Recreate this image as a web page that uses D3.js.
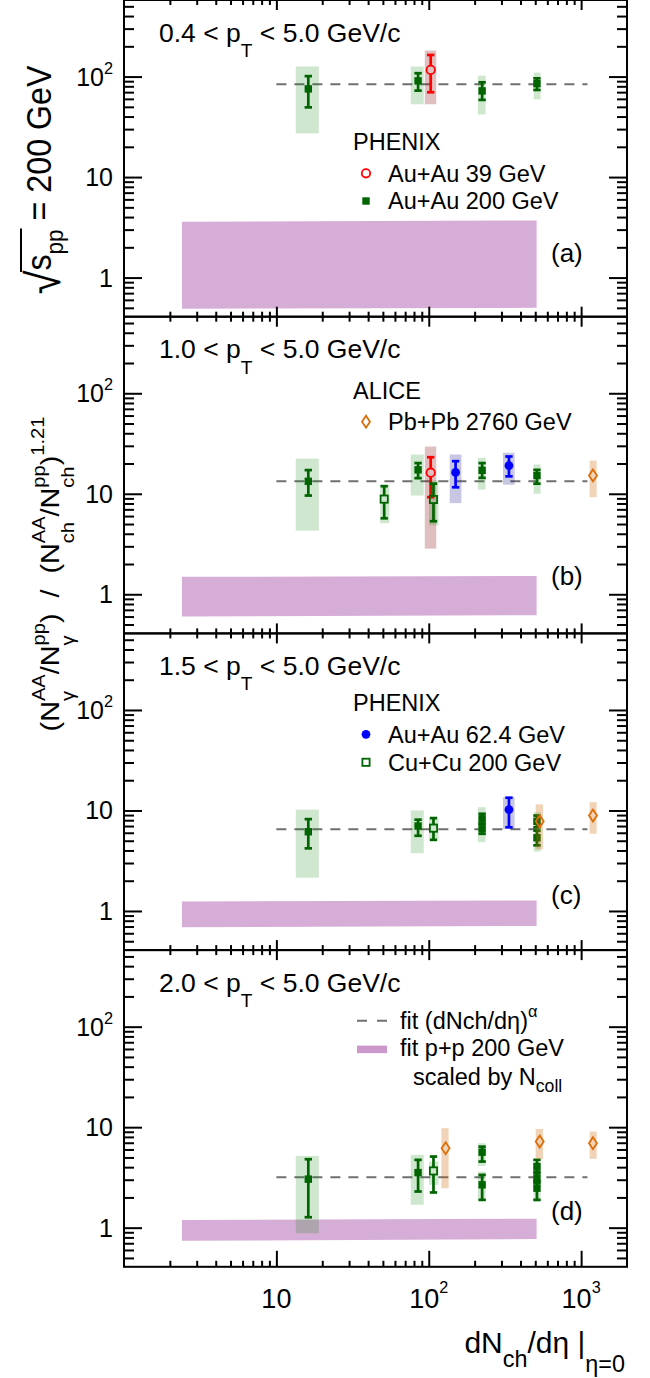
<!DOCTYPE html>
<html><head><meta charset="utf-8">
<script src="https://cdn.jsdelivr.net/npm/d3@7"></script>
<style>
body{margin:0;background:#fff}
svg{display:block}
text{font-family:"Liberation Sans",Arial,Helvetica,sans-serif;fill:#000}
</style>
</head><body>
<svg id="c" width="650" height="1378"></svg>
<script>
// ---------------- data ----------------
const panelLabels = ["(a)", "(b)", "(c)", "(d)"];
const ptLow = ["0.4", "1.0", "1.5", "2.0"];
const ptHigh = "5.0";
const yMajorTicks = [1, 10, 100];
const xMajorTicks = [10, 100, 1000];
const yTickLabels = [["1"], ["10"], ["10", "2"]];
const xTickLabels = [["10"], ["10", "2"], ["10", "3"]];
const fitLevel = [84, 13.3, 6.52, 3.18];
const fitRange = [10, 1100];
const ppBandX = [2.4, 510];
const ppBandLow = [[0.49, 0.50], [0.60, 0.62], [0.69, 0.71], [0.74, 0.77]];
const ppBandHigh = [[3.6, 3.7], [1.49, 1.52], [1.24, 1.27], [1.19, 1.23]];
// rows: panel, dNch/deta, value, statLo, statHi, sysLo, sysHi, sysXLo, sysXHi
const auAu200 = [
  [0, 16.2, 75.4, 49.4, 101, 27.2, 126, 13.4, 19.0],
  [0, 85.1, 90.6, 72.5, 108, 53, 126, 76.2, 92.7],
  [0, 224, 72, 58.6, 87.7, 42, 102, 210, 236],
  [0, 513, 85, 73.6, 96, 59.4, 109.6, 488, 542],
  [1, 16.2, 13.3, 9.6, 17.2, 4.3, 22.4, 13.4, 19.0],
  [1, 85.1, 17.3, 14.3, 20.2, 9.6, 24.6, 76.2, 92.7],
  [1, 224, 17.1, 14.4, 20.2, 11.0, 22.8, 210, 236],
  [1, 513, 15.2, 12.6, 17.3, 10, 19.6, 488, 542],
  [2, 16.2, 6.14, 4.2, 8.2, 2.14, 10.2, 13.4, 19.0],
  [2, 85.1, 7.0, 5.6, 8.1, 3.76, 10, 76.2, 92.7],
  [2, 224, 8.26, 7.37, 9.27, 7.4, 10.8, 210, 236],
  [2, 224, 6.57, 5.86, 7.37, 4.84, 7.4, 210, 236],
  [2, 513, 7.8, 6.8, 8.9, 6.4, 9.6, 488, 542],
  [2, 513, 5.35, 4.5, 6.3, 3.9, 6.4, 488, 542],
  [3, 16.2, 3.04, 1.27, 4.8, 0.88, 5.18, 13.4, 19.0],
  [3, 85.1, 3.53, 2.29, 4.73, 1.69, 5.3, 76.2, 92.7],
  [3, 224, 5.64, 4.55, 6.4, 4.12, 6.92, 210, 236],
  [3, 224, 2.67, 1.89, 3.35, 1.86, 3.61, 210, 236],
  [3, 513, 4.06, 3.61, 4.73, 3.6, 4.55, 488, 542],
  [3, 513, 3.11, 2.77, 3.48, 2.75, 3.6, 488, 542],
  [3, 513, 2.47, 1.89, 2.88, 1.82, 2.75, 488, 542]
];
const auAu39 = [
  [0, 103, 116.5, 69.8, 164, 53, 181.5, 94.2, 112],
  [1, 103, 16.2, 9.25, 23.1, 2.85, 29.5, 94.2, 112]
];
const auAu62 = [
  [1, 150, 16.3, 11.6, 21.1, 8.07, 24.6, 137.3, 163.8],
  [1, 336, 19.1, 14.9, 23.5, 12.3, 25.6, 307, 366],
  [2, 336, 10.2, 6.8, 13.4, 6.57, 13.6, 307, 366]
];
const cuCu200 = [
  [1, 51, 8.85, 5.7, 11.9, 5.1, 12.3, 48, 55.2],
  [1, 107.4, 8.77, 5.33, 12.6, 4.84, 13.6, 100.4, 115.8],
  [2, 107.4, 6.67, 5.1, 8.4, 5.22, 8.26, 100.4, 115.8],
  [3, 107.4, 3.67, 2.24, 5.1, 2.67, 4.55, 100.4, 115.8]
];
const pbPb2760 = [
  [1, 1196, 15.2, 15.2, 15.2, 9.25, 21.4, 1137, 1264],
  [2, 535, 7.8, 7.8, 7.8, 4.1, 11.5, 503, 562],
  [2, 1196, 8.9, 8.9, 8.9, 5.86, 12.1, 1137, 1264],
  [3, 129, 6.17, 6.17, 6.17, 2.47, 9.77, 121, 135],
  [3, 535, 7.2, 7.2, 7.2, 4.81, 9.6, 503, 562],
  [3, 1196, 6.92, 6.92, 6.92, 4.84, 9.05, 1137, 1264]
];

// ---------------- layout & styles ----------------
const X0 = 124, X1 = 627;
const panelTop = [0, 316.7, 633.4, 950.1], panelH = 316.7;
const x = d3.scaleLog().domain([1, 2000]).range([X0, X1]);
const ys = panelTop.map(t => d3.scaleLog().domain([0.408, 578]).range([t + panelH, t]));

const series = [
  {name: "Au+Au 200 GeV", data: auAu200, color: "#006400", box: "rgba(0,128,0,0.19)", marker: "fsquare"},
  {name: "Au+Au 39 GeV", data: auAu39, color: "#ff0000", box: "rgba(128,0,0,0.25)", marker: "ocircle"},
  {name: "Au+Au 62.4 GeV", data: auAu62, color: "#0000ff", box: "rgba(0,0,128,0.22)", marker: "fcircle"},
  {name: "Cu+Cu 200 GeV", data: cuCu200, color: "#006400", box: "rgba(0,128,0,0.19)", marker: "osquare"},
  {name: "Pb+Pb 2760 GeV", data: pbPb2760, color: "#dc6e0a", box: "rgba(204,102,0,0.28)", marker: "odiamond"}
];
const markerHalf = {fsquare: 3.7, osquare: 3.6, ocircle: 4.2, fcircle: 4.4, odiamond: 6};

const svg = d3.select("#c");

function rich(parent, pieces, o) {
  const g = parent.append("g").attr("transform", o.transform);
  const t = g.append("text").attr("font-size", o.size).attr("xml:space", "preserve").style("white-space", "pre");
  let cur = 0, lastStart = 0, lastEnd = 0;
  const ext = [];
  pieces.forEach(p => {
    const s = typeof p === "string" ? {t: p} : p;
    const fs = o.size * (s.scale ?? ((s.sup || s.sub) ? 0.7 : 1));
    const yy = s.sup ? -o.size * (s.rise ?? 0.45) : s.sub ? o.size * (s.drop ?? 0.3) : (s.dy || 0);
    const start = s.stack ? lastStart : cur + (s.dx || 0);
    const ts = t.append("tspan").attr("x", start).attr("y", yy).attr("font-size", fs).text(s.t);
    const w = ts.node().getComputedTextLength();
    const end = start + w;
    if (s.stack) cur = Math.max(lastEnd, end);
    else { lastStart = start; lastEnd = end; cur = end; }
    ext.push({start, end, ts});
  });
  const off = o.anchor === "middle" ? -cur / 2 : o.anchor === "end" ? -cur : 0;
  ext.forEach(e => { e.start += off; e.end += off; e.ts.attr("x", e.start); });
  return {g, ext, total: cur};
}

function drawMarker(g, type, cx, cy, color) {
  const h = markerHalf[type];
  if (type === "fsquare" || type === "osquare") {
    g.append("rect").attr("x", cx - h).attr("y", cy - h).attr("width", 2 * h).attr("height", 2 * h)
      .attr("fill", type === "fsquare" ? color : "none").attr("stroke", type === "osquare" ? color : "none").attr("stroke-width", 1.8);
  } else if (type === "ocircle" || type === "fcircle") {
    g.append("circle").attr("cx", cx).attr("cy", cy).attr("r", h)
      .attr("fill", type === "fcircle" ? color : "none").attr("stroke", type === "ocircle" ? color : "none").attr("stroke-width", 1.8);
  } else if (type === "odiamond") {
    g.append("path").attr("d", `M${cx},${cy - h}L${cx + 4},${cy}L${cx},${cy + h}L${cx - 4},${cy}Z`)
      .attr("fill", "none").attr("stroke", color).attr("stroke-width", 1.8);
  }
}

const yMinor = [], xMinor = [];
[-1, 0, 1, 2].forEach(k => d3.range(2, 10).forEach(m => { const v = m * Math.pow(10, k); if (v >= 0.408 && v <= 578) yMinor.push(v); }));
[0, 1, 2, 3].forEach(k => d3.range(2, 10).forEach(m => { const v = m * Math.pow(10, k); if (v < 2000) xMinor.push(v); }));

function axis(g, gen, vals, size, tr) {
  g.append("g").attr("transform", tr)
    .call(gen.tickValues(vals).tickSize(-size).tickFormat(""))
    .call(s => { s.select(".domain").remove(); s.selectAll("text").remove(); s.selectAll("line").attr("stroke", "#000").attr("stroke-width", 2); });
}

panelTop.forEach((top, i) => {
  const y = ys[i];
  const g = svg.append("g");
  // p+p fit band
  const band = [0, 1].map(j => ({x: ppBandX[j], lo: ppBandLow[i][j], hi: ppBandHigh[i][j]}));
  g.append("path").attr("d", d3.area().x(d => x(d.x)).y0(d => y(d.lo)).y1(d => y(d.hi))(band))
    .attr("fill", "rgba(153,50,153,0.4)");
  // dashed fit line
  g.append("path").attr("d", d3.line().x(d => x(d)).y(() => y(fitLevel[i]))(fitRange))
    .attr("stroke", "#707070").attr("stroke-width", 2).attr("stroke-dasharray", "10,8").attr("fill", "none");
  // data series
  series.forEach(s => {
    const rows = s.data.filter(r => r[0] === i);
    rows.forEach(r => {
      g.append("rect").attr("x", x(r[7])).attr("width", x(r[8]) - x(r[7]))
        .attr("y", y(r[6])).attr("height", y(r[5]) - y(r[6])).attr("fill", s.box);
    });
    rows.forEach(r => {
      const cx = x(r[1]), cy = y(r[2]);
      const yl = y(r[3]), yh = y(r[4]);
      const open = s.marker[0] === "o";
      const h = markerHalf[s.marker];
      if (yl - yh > 1) {
        const segs = open ? [[yh, cy - h], [cy + h, yl]] : [[yh, yl]];
        segs.forEach(([a, b]) => { if (b > a) g.append("line").attr("x1", cx).attr("x2", cx).attr("y1", a).attr("y2", b).attr("stroke", s.color).attr("stroke-width", 2.7); });
        [yl, yh].forEach(yy => g.append("line").attr("x1", cx - 3.7).attr("x2", cx + 3.7).attr("y1", yy).attr("y2", yy).attr("stroke", s.color).attr("stroke-width", 2.7));
      }
      drawMarker(g, s.marker, cx, cy, s.color);
    });
  });
  // frame and ticks
  const bottom = top + panelH;
  axis(g, d3.axisLeft(y), yMajorTicks, 18, `translate(${X0},0)`);
  axis(g, d3.axisLeft(y), yMinor, 10, `translate(${X0},0)`);
  axis(g, d3.axisRight(y), yMajorTicks, 18, `translate(${X1},0)`);
  axis(g, d3.axisRight(y), yMinor, 10, `translate(${X1},0)`);
  axis(g, d3.axisTop(x), xMajorTicks, 10, `translate(0,${top})`);
  axis(g, d3.axisTop(x), xMinor, 5, `translate(0,${top})`);
  axis(g, d3.axisBottom(x), xMajorTicks, i === 3 ? 16 : 10, `translate(0,${bottom})`);
  axis(g, d3.axisBottom(x), xMinor, i === 3 ? 6 : 5, `translate(0,${bottom})`);
  g.append("rect").attr("x", X0).attr("y", top).attr("width", X1 - X0).attr("height", panelH)
    .attr("fill", "none").attr("stroke", "#000").attr("stroke-width", 2);
  // y tick labels
  yMajorTicks.forEach((v, k) => {
    const lab = yTickLabels[k];
    const pieces = lab.length > 1 ? [lab[0], {t: lab[1], sup: true, scale: 0.65, rise: 0.48}] : [lab[0]];
    rich(svg, pieces, {size: 25, anchor: "end", transform: `translate(113,${y(v) + 9})`});
  });
  // panel title
  rich(svg, [`${ptLow[i]} < p`, {t: "T", sub: true, scale: 0.72, drop: 0.58}, ` < ${ptHigh} GeV/c`],
    {size: 26.5, anchor: "start", transform: `translate(159,${top + 41.5})`});
  // panel label
  const labY = [262, 268.5, 270.5, 270][i];
  svg.append("text").attr("x", 551).attr("y", top + labY).attr("font-size", 26).text(panelLabels[i]);
});

// ---------------- legends ----------------
function legendHeader(txt, yc) { svg.append("text").attr("x", 353).attr("y", yc + 8.4).attr("font-size", 23.5).text(txt); }
function legendEntry(s, yc) {
  drawMarker(svg, s.marker, 366, yc, s.color);
  svg.append("text").attr("x", 388).attr("y", yc + 8.4).attr("font-size", 23.5).text(s.name);
}
legendHeader("PHENIX", panelTop[0] + 141.7);
legendEntry(series[1], panelTop[0] + 173.3);
legendEntry(series[0], panelTop[0] + 201);
legendHeader("ALICE", panelTop[1] + 73.8);
legendEntry(series[4], panelTop[1] + 105);
legendHeader("PHENIX", panelTop[2] + 68.9);
legendEntry(series[2], panelTop[2] + 100.9);
legendEntry(series[3], panelTop[2] + 128.9);
{
  const t = panelTop[3];
  svg.append("line").attr("x1", 357).attr("x2", 387).attr("y1", t + 70.6).attr("y2", t + 70.6)
    .attr("stroke", "#707070").attr("stroke-width", 2).attr("stroke-dasharray", "10,10");
  rich(svg, ["fit (dNch/dη)", {t: "α", sup: true, scale: 0.7, rise: 0.5}], {size: 23.5, transform: `translate(400,${t + 79})`});
  svg.append("rect").attr("x", 357).attr("y", t + 95.5).attr("width", 30).attr("height", 7.5).attr("fill", "rgba(153,50,153,0.5)");
  svg.append("text").attr("x", 400).attr("y", t + 106.3).attr("font-size", 23.5).text("fit p+p 200 GeV");
  rich(svg, ["scaled by N", {t: "coll", sub: true, scale: 0.75, drop: 0.3}], {size: 23.5, transform: `translate(413,${t + 135})`});
}

// ---------------- x axis labels ----------------
xMajorTicks.forEach((v, k) => {
  const lab = xTickLabels[k];
  const pieces = lab.length > 1 ? [lab[0], {t: lab[1], sup: true, scale: 0.6, rise: 0.54}] : [lab[0]];
  rich(svg, pieces, {size: 27, anchor: "middle", transform: `translate(${x(v)},1307.5)`});
});
rich(svg, ["dN", {t: "ch", sub: true, scale: 0.78, drop: 0.46}, "/dη |", {t: "η=0", sub: true, scale: 0.78, drop: 0.63}],
  {size: 30, anchor: "end", transform: "translate(625,1353)"});

// ---------------- y axis titles ----------------
{
  const r = rich(svg, [{t: "√", scale: 1.35, dy: 9}, "s", {t: "pp", sub: true, scale: 0.7, drop: 0.34}, " = 200 GeV"],
    {size: 35, anchor: "middle", transform: "translate(51,180) rotate(-90) scale(0.92,1)"});
  r.g.append("line").attr("x1", r.ext[0].end - 1.5).attr("x2", r.ext[2].end + 1).attr("y1", -30).attr("y2", -30)
    .attr("stroke", "#000").attr("stroke-width", 2);
}
rich(svg, [
  "(N", {t: "AA", sup: true, rise: 0.55}, {t: "γ", sub: true, stack: true, drop: 0.6}, "/N", {t: "pp", sup: true, rise: 0.55}, {t: "γ", sub: true, stack: true, drop: 0.6}, ")",
  "  /  ",
  "(N", {t: "AA", sup: true, rise: 0.55}, {t: "ch", sub: true, stack: true, drop: 0.6}, "/N", {t: "pp", sup: true, rise: 0.55}, {t: "ch", sub: true, stack: true, drop: 0.6}, ")", {t: "1.21", sup: true, rise: 0.6}
], {size: 25, anchor: "middle", transform: "translate(59,574) rotate(-90) scale(1.15,1)"});
</script>
</body></html>
